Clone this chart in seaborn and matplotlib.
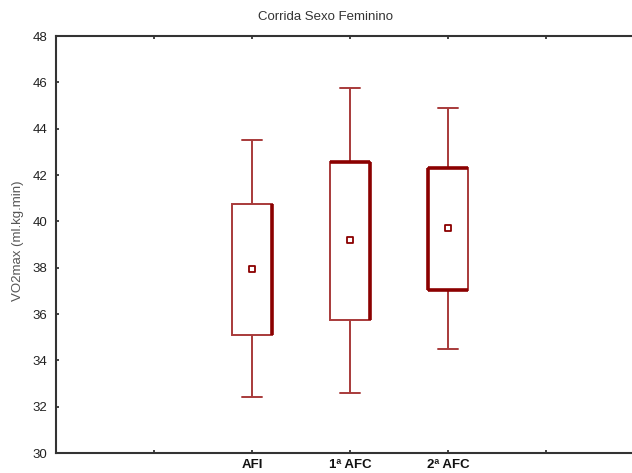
import matplotlib
matplotlib.use("Agg")
import matplotlib.pyplot as plt
import seaborn as sns
import pandas as pd

# VO2max summaries per test group (ml.kg.min)
groups = ["AFI", "1ª AFC", "2ª AFC"]
whisker_low = [32.4, 32.6, 34.5]
box_low = [35.1, 35.75, 37.05]
means = [37.95, 39.2, 39.7]
box_high = [40.75, 42.55, 42.3]
whisker_high = [43.5, 45.75, 44.9]
y_ticks = [30, 32, 34, 36, 38, 40, 42, 44, 46, 48]

# blank slots on either side keep the groups centred on the axis
order = [""] + groups + [" "]

rows = []
for g, a, b, m, c, d in zip(groups, whisker_low, box_low, means, box_high, whisker_high):
    for v in (a, b, m, c, d):
        rows.append({"grupo": g, "vo2": v})
df = pd.DataFrame(rows)
df_mean = pd.DataFrame({"grupo": groups, "vo2": means})

sns.set_theme(style="white")
plt.rcParams["font.family"] = ["Liberation Sans", "DejaVu Sans"]

dark_red = "#8b0000"
line_red = "#a83a3a"
box_w = 0.41

fig = plt.figure(figsize=(6.32, 4.73), dpi=100)
ax = fig.add_axes([56 / 632, 20 / 473, 588 / 632, 417 / 473])

sns.boxplot(data=df, x="grupo", y="vo2", order=order, whis=(0, 100),
            width=box_w, color="white", linecolor=line_red, linewidth=1.4,
            medianprops=dict(linewidth=0), showfliers=False, ax=ax)

# heavier edges on parts of each box
pos = {g: i + 1 for i, g in enumerate(groups)}
heavy = {"AFI": ["right"], "1ª AFC": ["top", "right"], "2ª AFC": ["left", "top", "bottom"]}
for g, lo, hi in zip(groups, box_low, box_high):
    x0, x1 = pos[g] - box_w / 2, pos[g] + box_w / 2
    for side in heavy[g]:
        if side == "right":
            ax.vlines(x1, lo, hi, color=dark_red, linewidth=2.6, zorder=5)
        elif side == "left":
            ax.vlines(x0, lo, hi, color=dark_red, linewidth=2.6, zorder=5)
        elif side == "top":
            ax.hlines(hi, x0, x1, color=dark_red, linewidth=2.6, zorder=5)
        elif side == "bottom":
            ax.hlines(lo, x0, x1, color=dark_red, linewidth=2.6, zorder=5)

sns.scatterplot(data=df_mean, x="grupo", y="vo2", marker="s", s=22,
                facecolor="white", edgecolor=dark_red, linewidth=1.3,
                zorder=6, ax=ax, legend=False)

ax.set_xlim(-1, 5)
ax.set_ylim(30, 48)
ax.set_yticks(y_ticks)
ax.set_yticklabels([str(t) for t in y_ticks], fontsize=9.5, color="#222222")
ax.set_xticks(range(len(order)))
ax.set_xticklabels(order, fontsize=9.5, fontweight="bold", color="#111111")
ax.tick_params(axis="both", direction="in", length=2.5, width=1.2,
               color="#222222", top=True, bottom=True, left=True)
ax.tick_params(axis="y", pad=6)
ax.tick_params(axis="x", pad=4.5)

for s in ["left", "bottom", "top"]:
    ax.spines[s].set_color("#333333")
    ax.spines[s].set_linewidth(1.5)
ax.spines["right"].set_visible(False)

ax.set_xlabel("")
ax.set_ylabel("VO2max (ml.kg.min)", fontsize=9.5, color="#555555", labelpad=8)
ax.yaxis.set_label_coords(-(56 - 24) / 588, 0.51)
fig.text(325 / 632, 1 - 17 / 473, "Corrida Sexo Feminino", ha="center", va="center",
         fontsize=9.5, color="#333333")

fig.savefig("out.png", dpi=100)
